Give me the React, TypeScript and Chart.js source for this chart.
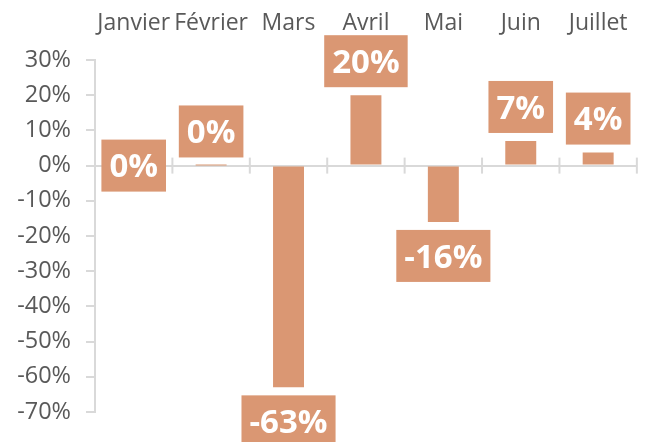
import React, { useEffect, useRef } from "react";
import { Chart, registerables } from "chart.js";

Chart.register(...registerables);

const categories = ["Janvier", "Février", "Mars", "Avril", "Mai", "Juin", "Juillet"];
const values = [0, 0.0004, -0.63, 0.2, -0.16, 0.07, 0.037];
const yMin = -0.7;
const yMax = 0.3;
const yStep = 0.1;

const BAR = "rgb(218,151,115)";
const AXIS = "#d9d9d9";
const TEXT = "#595959";
const FONT = "'Open Sans', 'DejaVu Sans', sans-serif";

const pct = (v: number) => Math.round(v * 100) + "%";

const zeroAxisPlugin = {
  id: "zeroAxisTicks",
  beforeDatasetsDraw(chart: any) {
    const { ctx, chartArea, scales } = chart;
    const y0 = scales.y.getPixelForValue(0);
    const n = categories.length;
    ctx.save();
    ctx.strokeStyle = AXIS;
    ctx.lineWidth = 2;
    for (let i = 1; i <= n; i++) {
      const x = chartArea.left + ((chartArea.right - chartArea.left) * i) / n;
      ctx.beginPath();
      ctx.moveTo(x, y0 - 8);
      ctx.lineTo(x, y0 + 8);
      ctx.stroke();
    }
    ctx.restore();
  },
};

const labelPlugin = {
  id: "boxLabels",
  afterDatasetsDraw(chart: any) {
    const { ctx, scales } = chart;
    const y0 = scales.y.getPixelForValue(0);
    const meta = chart.getDatasetMeta(0);
    const fs = 33;
    const padX = 8;
    const h = 52;
    const gap = 8;
    ctx.save();
    ctx.font = `bold ${fs}px ${FONT}`;
    meta.data.forEach((bar: any, i: number) => {
      const v = values[i];
      const text = pct(v);
      const tw = ctx.measureText(text).width;
      const w = tw + 2 * padX;
      let cy: number;
      if (v === 0) cy = y0;
      else if (v > 0) cy = bar.y - gap - h / 2;
      else cy = bar.y + gap + h / 2;
      ctx.fillStyle = BAR;
      ctx.fillRect(bar.x - w / 2, cy - h / 2, w, h);
      ctx.fillStyle = "#ffffff";
      ctx.textAlign = "center";
      ctx.textBaseline = "alphabetic";
      ctx.fillText(text, bar.x, cy + 0.357 * fs);
    });
    ctx.restore();
  },
};

export default function App() {
  const ref = useRef<HTMLCanvasElement | null>(null);

  useEffect(() => {
    if (!ref.current) return;
    const chart = new Chart(ref.current, {
      type: "bar",
      data: {
        labels: categories,
        datasets: [
          {
            data: values,
            backgroundColor: BAR,
            borderWidth: 0,
            barPercentage: 0.4,
            categoryPercentage: 1,
          },
        ],
      },
      options: {
        responsive: false,
        animation: false,
        layout: { padding: { top: 0, left: 0, right: 6, bottom: 30 } },
        plugins: {
          legend: { display: false },
          tooltip: { enabled: false },
        },
        scales: {
          x: {
            position: "top",
            afterFit: (s: any) => {
              s.height = 60;
            },
            grid: { display: false, drawTicks: false },
            border: { display: false },
            ticks: {
              font: { family: FONT, size: 23 },
              color: TEXT,
              padding: 23,
              maxRotation: 0,
              minRotation: 0,
              autoSkip: false,
            },
          },
          y: {
            min: yMin,
            max: yMax,
            afterFit: (s: any) => {
              s.width = 95;
            },
            ticks: {
              stepSize: yStep,
              callback: (v: any) => pct(Number(v)),
              font: { family: FONT, size: 23.5 },
              color: TEXT,
              padding: 15,
            },
            grid: {
              color: (c: any) =>
                c.tick && Math.abs(c.tick.value) < 1e-9 ? AXIS : "rgba(0,0,0,0)",
              tickColor: AXIS,
              tickLength: 9,
              lineWidth: 2,
            },
            border: { color: AXIS, width: 2 },
          },
        },
      },
      plugins: [zeroAxisPlugin, labelPlugin],
    });
    return () => chart.destroy();
  }, []);

  return (
    <div style={{ position: "absolute", left: 0, top: 0, width: 651, height: 442, background: "#fff" }}>
      <canvas ref={ref} width={651} height={442} />
    </div>
  );
}
